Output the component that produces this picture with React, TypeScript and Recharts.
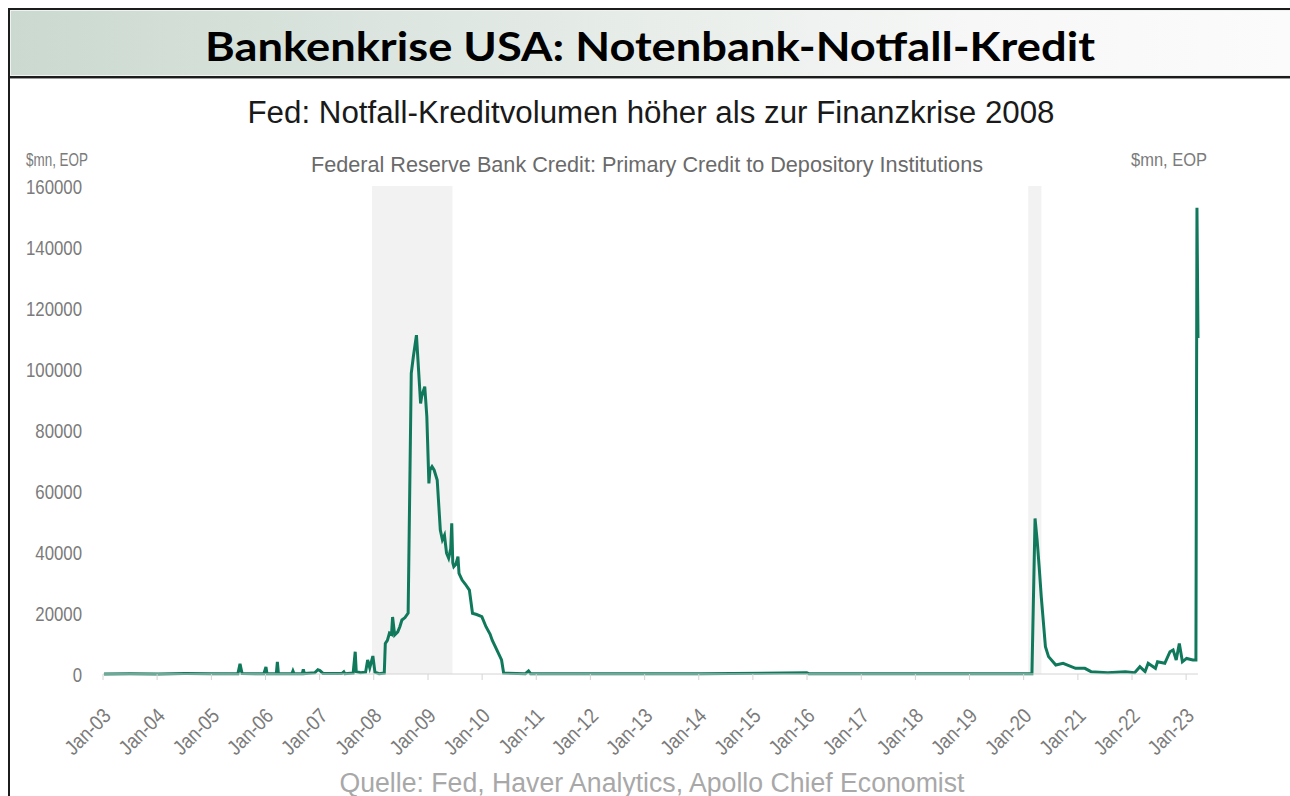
import React from 'react';
import { LineChart, Line, XAxis, YAxis, ReferenceArea } from 'recharts';

const obsDates: string[] = [
  '2003-01-08', '2003-07-02', '2004-01-07', '2004-07-07', '2005-01-05', '2005-06-29', '2005-07-13', '2005-07-27',
  '2005-12-21', '2006-01-04', '2006-01-11', '2006-03-15', '2006-03-22', '2006-03-29', '2006-06-28', '2006-07-05',
  '2006-07-12', '2006-09-06', '2006-09-13', '2006-09-20', '2006-11-29', '2006-12-20', '2007-01-03', '2007-01-24',
  '2007-05-30', '2007-06-13', '2007-06-20', '2007-08-15', '2007-08-29', '2007-09-05', '2007-10-03', '2007-11-07',
  '2007-11-21', '2007-12-05', '2007-12-26', '2008-01-09', '2008-02-06', '2008-03-12', '2008-03-19', '2008-04-02',
  '2008-04-16', '2008-04-30', '2008-05-07', '2008-05-21', '2008-06-11', '2008-06-25', '2008-07-09', '2008-07-30',
  '2008-08-20', '2008-09-10', '2008-09-24', '2008-10-15', '2008-11-12', '2008-11-19', '2008-12-10', '2008-12-24',
  '2009-01-07', '2009-01-14', '2009-01-28', '2009-02-11', '2009-03-04', '2009-03-25', '2009-04-08', '2009-04-22',
  '2009-05-06', '2009-05-20', '2009-06-03', '2009-06-10', '2009-06-17', '2009-06-24', '2009-07-08', '2009-07-22',
  '2009-07-29', '2009-08-19', '2009-09-09', '2009-10-07', '2009-10-28', '2009-11-25', '2009-12-30', '2010-01-27',
  '2010-02-24', '2010-03-10', '2010-04-14', '2010-05-12', '2010-05-26', '2010-10-20', '2010-11-10', '2010-11-24',
  '2012-06-06', '2014-01-08', '2015-12-30', '2016-01-13', '2018-01-03', '2020-02-26', '2020-03-18', '2020-04-01',
  '2020-04-15', '2020-04-29', '2020-05-27', '2020-06-17', '2020-08-05', '2020-09-23', '2020-12-16', '2021-02-17',
  '2021-03-31', '2021-07-21', '2021-11-17', '2022-01-19', '2022-02-23', '2022-03-30', '2022-04-20', '2022-06-08',
  '2022-06-22', '2022-08-10', '2022-09-14', '2022-10-05', '2022-10-26', '2022-11-16', '2022-12-07', '2023-01-04',
  '2023-02-15', '2023-03-08', '2023-03-15', '2023-03-22',
];

const primaryCredit: number[] = [
  20, 50, 30, 150, 80, 120, 3300, 150,
  100, 2300, 100, 120, 4000, 100, 100, 1000,
  150, 100, 1500, 150, 400, 1400, 1100, 200,
  150, 700, 100, 300, 7300, 800, 400, 600,
  4600, 2000, 5900, 600, 100, 300, 10000, 11000,
  13400, 13000, 18700, 12800, 13800, 15500, 17700, 18500,
  20000, 98600, 104000, 111100, 88700, 91000, 94200, 84400,
  62500, 66900, 68000, 66900, 63600, 47200, 44000, 45500,
  39600, 38000, 41000, 49400, 36500, 35200, 36000, 38500,
  33000, 30800, 29500, 27500, 19900, 19500, 18800, 15500,
  13000, 11100, 7500, 4600, 300, 100, 1000, 100,
  100, 50, 400, 100, 50, 50, 51000, 43900,
  35000, 25300, 8950, 5700, 2950, 3500, 1850, 1850,
  770, 440, 770, 440, 2400, 770, 3500, 1850,
  4000, 3500, 7300, 7900, 4600, 10000, 4000, 5100,
  4600, 4600, 152900, 110200,
];

const tickYears: number[] = [
  2003, 2004, 2005, 2006, 2007, 2008, 2009, 2010, 2011, 2012, 2013,
  2014, 2015, 2016, 2017, 2018, 2019, 2020, 2021, 2022, 2023,
];

const yTicks: number[] = [0, 20000, 40000, 60000, 80000, 100000, 120000, 140000, 160000];

const recessions: [string, string][] = [
  ['2007-12-20', '2009-06-15'],
  ['2020-02-01', '2020-04-30'],
];

const domainStart = '2003-01-01';
const domainEnd = '2023-03-22';

const ts = (s: string) => Date.UTC(+s.slice(0, 4), +s.slice(5, 7) - 1, +s.slice(8, 10));
const rows = obsDates.map((d, i) => ({ t: ts(d), v: primaryCredit[i] }));
const xTicks = tickYears.map((y) => Date.UTC(y, 0, 1));
const fmtYear = (t: number) => 'Jan-' + String(new Date(t).getUTCFullYear()).slice(2);

const FONT = "'Liberation Sans', Arial, sans-serif";
const GREY = '#7b7b7b';

const XTick = (props: any) => {
  const { x, y, payload } = props;
  return (
    <g transform={`translate(${x + 4},${y + 30})`}>
      <text
        textAnchor="end"
        dy="0.35em"
        transform="rotate(-45) scale(0.86,1)"
        fill={GREY}
        fontSize={21}
        fontFamily={FONT}
      >
        {fmtYear(payload.value)}
      </text>
    </g>
  );
};

const YTick = (props: any) => {
  const { x, y, payload, anchor } = props;
  return (
    <g transform={`translate(${x},${y}) scale(0.8,1)`}>
      <text x={0} y={0} dy="0.36em" textAnchor={anchor} fill={GREY} fontSize={21} fontFamily={FONT}>
        {payload.value}
      </text>
    </g>
  );
};

export default function App() {
  return (
    <div style={{ position: 'relative', width: 1290, height: 796, overflow: 'hidden', background: '#fff' }}>
      <style>{`html,body{margin:0;padding:0;overflow:hidden;background:#fff}`}</style>
      {/* frame */}
      <div style={{ position: 'absolute', left: 8, top: 8, width: 2, height: 788, background: '#1c1c1c' }} />
      <div style={{ position: 'absolute', left: 8, top: 8, width: 1282, height: 2, background: '#1c1c1c' }} />
      <div
        style={{
          position: 'absolute',
          left: 10,
          top: 10,
          width: 1280,
          height: 66,
          background: 'linear-gradient(to right, #cbd9d0 0%, #dfe7e2 35%, #f6f7f6 75%, #fbfbfb 100%)',
          boxShadow: 'inset 1px 1px 0 #eef3ef, inset 0 -1px 0 #eef3ef',
        }}
      />
      <div style={{ position: 'absolute', left: 8, top: 76, width: 1282, height: 2, background: '#1c1c1c' }} />
      <div style={{ position: 'absolute', left: 10, top: 78, width: 1280, height: 1, background: '#9a9a9a' }} />

      <div style={{ position: 'absolute', left: 0, top: 0 }}>
        <LineChart width={1290} height={796} data={rows} margin={{ top: 186, right: 0, bottom: 0, left: 0 }}>
          <XAxis
            dataKey="t"
            type="number"
            domain={[ts(domainStart), ts(domainEnd)]}
            ticks={xTicks}
            interval={0}
            height={122}
            axisLine={{ stroke: '#d4d4d4', strokeWidth: 1 }}
            tickLine={{ stroke: '#d4d4d4' }}
            tickSize={6}
            tickMargin={2}
            tick={<XTick />}
          />
          <YAxis
            yAxisId="left"
            orientation="left"
            width={103}
            domain={[0, 160000]}
            ticks={yTicks}
            interval={0}
            axisLine={false}
            tickLine={false}
            tickSize={0}
            tickMargin={21}
            tick={<YTick anchor="end" />}
          />
          <YAxis
            yAxisId="right"
            orientation="right"
            width={92}
            domain={[0, 160000]}
            ticks={yTicks}
            interval={0}
            axisLine={false}
            tickLine={false}
            tickSize={0}
            tickMargin={18}
            tick={<YTick anchor="start" />}
          />
          {recessions.map(([a, b]) => (
            <ReferenceArea
              key={a}
              yAxisId="left"
              x1={ts(a)}
              x2={ts(b)}
              y1={0}
              y2={160000}
              fill="#f2f2f2"
              fillOpacity={1}
              stroke="none"
            />
          ))}
          <Line
            yAxisId="left"
            type="linear"
            dataKey="v"
            stroke="#10795b"
            strokeWidth={3}
            dot={false}
            activeDot={false}
            isAnimationActive={false}
          />
        </LineChart>
      </div>

      <svg width={1290} height={796} style={{ position: 'absolute', left: 0, top: 0, pointerEvents: 'none' }}>
        <text x={650} y={61} textAnchor="middle" fontFamily="Lato, 'Open Sans', sans-serif" fontWeight={700} fontSize={40} fill="#000" textLength={890} lengthAdjust="spacingAndGlyphs">
          Bankenkrise USA: Notenbank-Notfall-Kredit
        </text>
        <text x={651} y={123} textAnchor="middle" fontFamily={FONT} fontSize={31} fill="#1a1a1a" textLength={807} lengthAdjust="spacingAndGlyphs">
          Fed: Notfall-Kreditvolumen höher als zur Finanzkrise 2008
        </text>
        <text x={647} y={172} textAnchor="middle" fontFamily={FONT} fontSize={22} fill="#6a6a6a" textLength={672} lengthAdjust="spacingAndGlyphs">
          Federal Reserve Bank Credit: Primary Credit to Depository Institutions
        </text>
        <text x={26} y={166} fontFamily={FONT} fontSize={19} fill={GREY} textLength={62} lengthAdjust="spacingAndGlyphs">
          $mn, EOP
        </text>
        <text x={1207} y={166} textAnchor="end" fontFamily={FONT} fontSize={19} fill={GREY} textLength={76} lengthAdjust="spacingAndGlyphs">
          $mn, EOP
        </text>
        <text x={652} y={792} textAnchor="middle" fontFamily={FONT} fontSize={27} fill="#a8a8a8" textLength={625} lengthAdjust="spacingAndGlyphs">
          Quelle: Fed, Haver Analytics, Apollo Chief Economist
        </text>
      </svg>
    </div>
  );
}
